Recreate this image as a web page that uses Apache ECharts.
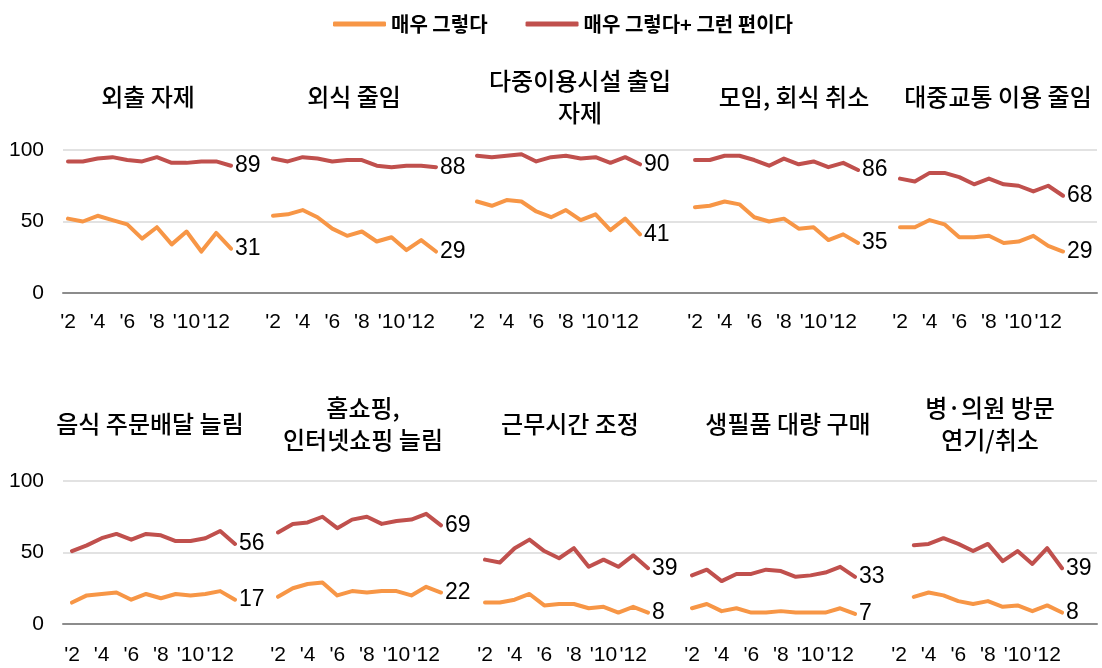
<!DOCTYPE html>
<html>
<head>
<meta charset="utf-8">
<script src="https://cdn.jsdelivr.net/npm/echarts@6/dist/echarts.min.js"></script>
<style>
html,body{margin:0;padding:0;background:#fff}
#main{width:1102px;height:668px}
</style>
</head>
<body>
<div id="main"></div>
<script>
var months = ["'2","'3","'4","'5","'6","'7","'8","'9","'10","'11","'12","'13"];
var titles = ['외출 자제','외식 줄임','다중이용시설 출입\n자제','모임, 회식 취소','대중교통 이용 줄임',
              '음식 주문배달 늘림','홈쇼핑,\n인터넷쇼핑 늘림','근무시간 조정','생필품 대량 구매','병·의원 방문\n연기/취소'];
var yTicks = [0, 50, 100];

// 매우 그렇다
var veryMuch = [
  [52,50,54,51,48,38,46,34,43,29,42,31],
  [54,55,58,53,45,40,43,36,39,30,37,29],
  [64,61,65,64,57,53,58,51,55,44,52,41],
  [60,61,64,62,53,50,52,45,46,37,41,35],
  [46,46,51,48,39,39,40,35,36,40,33,29],
  [15,20,21,22,17,21,18,21,20,21,23,17],
  [19,25,28,29,20,23,22,23,23,20,26,22],
  [15,15,17,21,13,14,14,11,12,8,12,8],
  [11,14,9,11,8,8,9,8,8,8,11,7],
  [null,19,22,20,16,14,16,12,13,9,13,8]
];
// 매우 그렇다+ 그런 편이다
var veryOrRather = [
  [92,92,94,95,93,92,95,91,91,92,92,89],
  [94,92,95,94,92,93,93,89,88,89,89,88],
  [96,95,96,97,92,95,96,94,95,91,95,90],
  [93,93,96,96,93,89,94,90,92,88,91,86],
  [80,78,84,84,81,76,80,76,75,71,75,68],
  [51,55,60,63,59,63,62,58,58,60,65,56],
  [64,70,71,75,67,73,75,70,72,73,77,69],
  [45,43,53,59,51,46,53,40,45,40,48,39],
  [34,38,30,35,35,38,37,33,34,36,40,33],
  [null,55,56,60,56,51,56,44,51,42,53,39]
];
var seriesNames = ['매우 그렇다', '매우 그렇다+ 그런 편이다'];
var colors = ['#F79646', '#C0504D'];

// layout
var rowTop = [150, 481], plotH = 143, plotW = 163;
var colStart = [[68,273,477,695,900],[72,278,485,692,899]];
var titleX = [[148,354,580,794,998],[150,363,570,788,990]];
var titleMid = [97, 424];
var labelMargin = [19, 21];
var latin = '"Liberation Sans", Arial, sans-serif';
var hangul = '"Noto Sans CJK KR", sans-serif';

var chart = echarts.init(document.getElementById('main'));
var grid = [], xAxis = [], yAxis = [], series = [], title = [];

// background grid per row: gridlines, baseline, y labels
for (var r = 0; r < 2; r++) {
  grid.push({left: 63, right: 5, top: rowTop[r], height: plotH});
  xAxis.push({gridIndex: r, type: 'value', min: 0, max: 1, show: true,
    axisLine: {show: true, onZero: false, lineStyle: {color: '#8c8c8c', width: 2}},
    axisTick: {show: false}, axisLabel: {show: false}, splitLine: {show: false}});
  yAxis.push({gridIndex: r, type: 'value', min: yTicks[0], max: yTicks[2], interval: 50,
    axisLine: {show: false}, axisTick: {show: false},
    axisLabel: {color: '#000', fontSize: 21, fontFamily: latin, margin: 19},
    splitLine: {lineStyle: {color: '#d9d9d9', width: 1.5}}});
}

for (var p = 0; p < 10; p++) {
  var r = Math.floor(p / 5), c = p % 5;
  var gi = grid.length;
  grid.push({left: colStart[r][c], width: plotW, top: rowTop[r], height: plotH});
  xAxis.push({gridIndex: gi, type: 'category', data: months, boundaryGap: false,
    axisLine: {show: false}, axisTick: {show: false}, splitLine: {show: false},
    axisLabel: {interval: 1, color: '#000', fontSize: 21, fontFamily: latin, margin: labelMargin[r]}});
  yAxis.push({gridIndex: gi, type: 'value', min: 0, max: 100, show: false, splitLine: {show: false}});
  [veryMuch, veryOrRather].forEach(function (arr, k) {
    series.push({
      name: seriesNames[k], type: 'line', xAxisIndex: gi, yAxisIndex: gi,
      data: arr[p], showSymbol: false, color: colors[k],
      lineStyle: {width: 4, color: colors[k], cap: 'round', join: 'round'},
      endLabel: {show: true, distance: 4, color: '#000', fontSize: 23, fontFamily: latin,
        formatter: function (o) { return o.value; }},
      silent: true, animation: false
    });
  });
  var lines = titles[p].split('\n').length;
  title.push({text: titles[p], left: titleX[r][c], top: titleMid[r] - lines * 16,
    textAlign: 'center', padding: 0,
    textStyle: {fontSize: 24, lineHeight: 32, fontWeight: 500, color: '#000', fontFamily: hangul}});
}

chart.setOption({
  backgroundColor: '#fff',
  animation: false,
  title: title,
  legend: {
    data: seriesNames, left: 328, top: 9, itemGap: 38, itemWidth: 53, itemHeight: 5,
    icon: 'roundRect',
    textStyle: {fontSize: 20, fontWeight: 'bold', color: '#000', fontFamily: hangul}
  },
  grid: grid, xAxis: xAxis, yAxis: yAxis, series: series
});
</script>
</body>
</html>
